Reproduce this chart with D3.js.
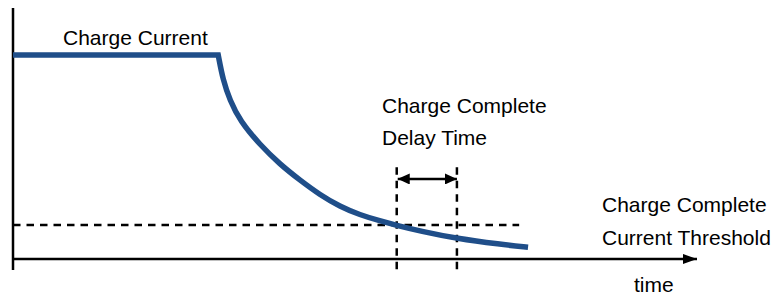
<!DOCTYPE html>
<html>
<head>
<meta charset="utf-8">
<script src="https://cdn.jsdelivr.net/npm/d3@7"></script>
<style>
  body { margin: 0; background: #fff; }
  text { font-family: "Liberation Sans", Arial, sans-serif; font-size: 21px; fill: #000; }
</style>
</head>
<body>
<div id="chart"></div>
<script>
// charge current profile (time units, % of charge current)
const flatTime = [0, 30];
const flatCurrent = [100, 100];
const decayTime = [30, 30.7, 31.7, 33.2, 36.1, 39.0, 42.0, 44.9, 47.8, 50.7, 53.7, 56.1, 59.5, 64.9, 71.2, 75.3];
const decayCurrent = [100, 87.7, 77.9, 67.6, 56.0, 46.5, 38.5, 31.4, 25.7, 21.6, 18.6, 16.5, 13.7, 10.0, 7.2, 5.7];

const threshold = 16.7;       // charge complete current threshold
const thresholdEnd = 74;      // where dashed threshold line stops
const delayStart = 56.1;      // curve crosses the threshold
const delayEnd = 64.9;        // end of charge complete delay time

const width = 774, height = 298;

const svg = d3.select("#chart").append("svg")
    .attr("width", width)
    .attr("height", height);

const x = d3.scaleLinear().domain([0, 100]).range([13, 697]);
const y = d3.scaleLinear().domain([-5.4, 123]).range([270, 8]);

// arrowhead markers
const defs = svg.append("defs");
defs.append("marker")
    .attr("id", "head")
    .attr("viewBox", "0 0 14 10")
    .attr("refX", 14).attr("refY", 5)
    .attr("markerWidth", 14).attr("markerHeight", 10)
    .attr("markerUnits", "userSpaceOnUse")
    .attr("orient", "auto-start-reverse")
    .append("path")
    .attr("d", "M0,0L14,5L0,10Z")
    .attr("fill", "#000");
defs.append("marker")
    .attr("id", "small")
    .attr("viewBox", "0 0 12 11")
    .attr("refX", 12).attr("refY", 5.5)
    .attr("markerWidth", 12).attr("markerHeight", 11)
    .attr("markerUnits", "userSpaceOnUse")
    .attr("orient", "auto-start-reverse")
    .append("path")
    .attr("d", "M0,0L12,5.5L0,11Z")
    .attr("fill", "#000");

// axes
svg.append("line")
    .attr("x1", x(0)).attr("x2", x(0))
    .attr("y1", y(-5.4)).attr("y2", y(123))
    .attr("stroke", "#000").attr("stroke-width", 2.5);

svg.append("line")
    .attr("x1", x(0)).attr("x2", x(100))
    .attr("y1", y(0)).attr("y2", y(0))
    .attr("stroke", "#000").attr("stroke-width", 2.5)
    .attr("marker-end", "url(#head)");

// threshold dashed line
svg.append("line")
    .attr("x1", x(0)).attr("x2", x(thresholdEnd))
    .attr("y1", y(threshold)).attr("y2", y(threshold))
    .attr("stroke", "#000").attr("stroke-width", 2.5)
    .attr("stroke-dasharray", "7.5,6");

// delay time verticals
[delayStart, delayEnd].forEach(t => {
    svg.append("line")
        .attr("x1", x(t)).attr("x2", x(t))
        .attr("y1", y(45)).attr("y2", y(-5.4))
        .attr("stroke", "#000").attr("stroke-width", 2.5)
        .attr("stroke-dasharray", "7.5,6");
});

// double arrow
svg.append("line")
    .attr("x1", x(delayStart) + 1).attr("x2", x(delayEnd))
    .attr("y1", y(39.2)).attr("y2", y(39.2))
    .attr("stroke", "#000").attr("stroke-width", 2.5)
    .attr("marker-start", "url(#small)")
    .attr("marker-end", "url(#small)");

// current curve: flat then decay, joined with a sharp corner
const line = d3.line().x(d => x(d[0])).y(d => y(d[1]));
const flatPath = line(d3.zip(flatTime, flatCurrent));
const decayPath = line.curve(d3.curveBasis)(d3.zip(decayTime, decayCurrent));

svg.append("path")
    .attr("d", flatPath + decayPath.replace(/^M/, "L"))
    .attr("fill", "none")
    .attr("stroke", "#1f4e89")
    .attr("stroke-width", 5.5)
    .attr("stroke-linejoin", "miter");

// labels
const labels = [
    { text: "Charge Current", x: 63, y: 45 },
    { text: "Charge Complete", x: 382, y: 113 },
    { text: "Delay Time", x: 382, y: 145 },
    { text: "Charge Complete", x: 602, y: 212 },
    { text: "Current Threshold", x: 602, y: 245 },
    { text: "time", x: 634, y: 292 }
];
svg.selectAll(".label")
    .data(labels)
    .enter().append("text")
    .attr("class", "label")
    .attr("x", d => d.x)
    .attr("y", d => d.y)
    .text(d => d.text);
</script>
</body>
</html>
